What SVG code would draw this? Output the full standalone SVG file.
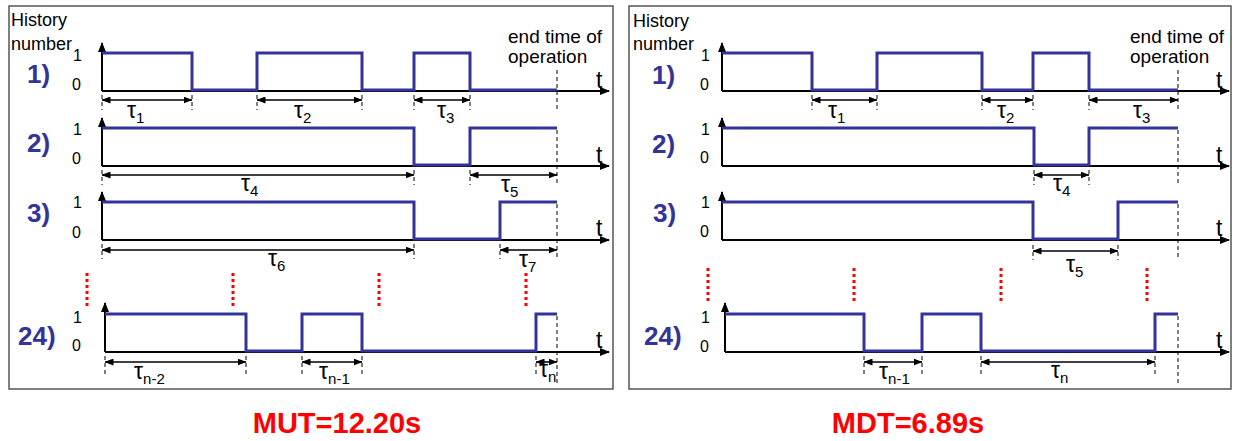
<svg xmlns="http://www.w3.org/2000/svg" width="1234" height="441" viewBox="0 0 1234 441">
<defs>
<marker id="ax" viewBox="0 0 10 8" refX="9" refY="4" markerWidth="10" markerHeight="8" markerUnits="userSpaceOnUse" orient="auto"><path d="M0,0 L10,4 L0,8 z" fill="#000"/></marker>
<marker id="ta" viewBox="0 0 9 7" refX="8.5" refY="3.5" markerWidth="9" markerHeight="7" markerUnits="userSpaceOnUse" orient="auto-start-reverse"><path d="M0,0 L9,3.5 L0,7 z" fill="#000"/></marker>
<style>
.frame{fill:#fff;stroke:#555;stroke-width:1.5}
.axis{fill:none;stroke:#000;stroke-width:2;marker-end:url(#ax)}
.sig{fill:none;stroke:#333399;stroke-width:3;stroke-linejoin:miter}
.tau{fill:none;stroke:#000;stroke-width:1.6;marker-start:url(#ta);marker-end:url(#ta)}
.dash{fill:none;stroke:#000;stroke-width:1;stroke-dasharray:4 3}
.dots{fill:none;stroke:#ff0000;stroke-width:3;stroke-dasharray:3 3}
.lbl{font-family:"Liberation Sans",Arial,sans-serif;font-size:19px;fill:#000}
.hist{font-family:"Liberation Sans",Arial,sans-serif;font-size:18px;fill:#000}
.tick{font-family:"Liberation Sans",Arial,sans-serif;font-size:16px;fill:#000}
.num{font-family:"Liberation Sans",Arial,sans-serif;font-size:26px;font-weight:bold;fill:#333399}
.tl{font-family:"Liberation Sans",Arial,sans-serif;font-size:23px;fill:#000}
.t{font-family:"Liberation Sans",Arial,sans-serif;font-size:23px;fill:#000}
.sub{font-size:15px}
.res{font-family:"Liberation Sans",Arial,sans-serif;font-size:29px;font-weight:bold;fill:#ff0000;text-anchor:middle}
</style>
</defs>
<rect width="1234" height="441" fill="#fff"/>

<g id="panel-mut">
<rect class="frame" x="9" y="6" width="604" height="383"/>
<text class="hist" x="11" y="26">History</text>
<text class="hist" x="11" y="50">number</text>
<text class="lbl" x="508" y="43">end time of</text>
<text class="lbl" x="508" y="63">operation</text>

<g id="l-row1">
<text class="num" x="27" y="83">1)</text>
<text class="tick" x="73" y="61">1</text>
<text class="tick" x="72" y="90">0</text>
<path class="axis" d="M102,91 V43"/>
<path class="axis" d="M102,91 H609"/>
<text class="t" x="596" y="88">t</text>
<path class="sig" d="M102,53 H192 V90 H257 V53 H362 V90 H414 V53 H470 V90 H557"/>
</g>
<g id="l-row2">
<text class="num" x="27" y="152">2)</text>
<text class="tick" x="73" y="135">1</text>
<text class="tick" x="72" y="164">0</text>
<path class="axis" d="M102,166 V118"/>
<path class="axis" d="M102,166 H609"/>
<text class="t" x="596" y="163">t</text>
<path class="sig" d="M102,128 H414 V165 H470 V128 H557"/>
</g>
<g id="l-row3">
<text class="num" x="27" y="222">3)</text>
<text class="tick" x="73" y="208">1</text>
<text class="tick" x="72" y="238">0</text>
<path class="axis" d="M102,240 V192"/>
<path class="axis" d="M102,240 H609"/>
<text class="t" x="596" y="236">t</text>
<path class="sig" d="M102,202 H414 V239 H500 V202 H557"/>
</g>
<g id="l-dots">
<path class="dots" d="M87,273 V306 M233,273 V306 M379,273 V306 M526,273 V306"/>
</g>
<g id="l-row24">
<text class="num" x="18" y="345">24)</text>
<text class="tick" x="73" y="323">1</text>
<text class="tick" x="72" y="351">0</text>
<path class="axis" d="M105,352 V303"/>
<path class="axis" d="M105,352 H609"/>
<text class="t" x="596" y="348">t</text>
<path class="sig" d="M105,314 H246 V351 H302 V314 H362 V351 H536 V314 H557"/>
</g>
</g>

<g id="panel-mdt">
<rect class="frame" x="629" y="6" width="602" height="383"/>
<text class="hist" x="633" y="27">History</text>
<text class="hist" x="633" y="50">number</text>
<text class="lbl" x="1130" y="43">end time of</text>
<text class="lbl" x="1130" y="63">operation</text>

<g id="r-row1">
<text class="num" x="652" y="84">1)</text>
<text class="tick" x="701" y="61">1</text>
<text class="tick" x="700" y="90">0</text>
<path class="axis" d="M722,91 V43"/>
<path class="axis" d="M722,91 H1229"/>
<text class="t" x="1216" y="88">t</text>
<path class="sig" d="M722,53 H812 V90 H877 V53 H982 V90 H1033 V53 H1089 V90 H1178"/>
</g>
<g id="r-row2">
<text class="num" x="652" y="153">2)</text>
<text class="tick" x="701" y="135">1</text>
<text class="tick" x="700" y="163">0</text>
<path class="axis" d="M722,166 V118"/>
<path class="axis" d="M722,166 H1229"/>
<text class="t" x="1216" y="163">t</text>
<path class="sig" d="M722,128 H1034 V165 H1089 V128 H1178"/>
</g>
<g id="r-row3">
<text class="num" x="653" y="222">3)</text>
<text class="tick" x="701" y="208">1</text>
<text class="tick" x="700" y="237">0</text>
<path class="axis" d="M722,240 V192"/>
<path class="axis" d="M722,240 H1229"/>
<text class="t" x="1216" y="236">t</text>
<path class="sig" d="M722,202 H1033 V239 H1118 V202 H1178"/>
</g>
<g id="r-dots">
<path class="dots" d="M708,268 V302 M854,268 V302 M1001,268 V302 M1147,268 V302"/>
</g>
<g id="r-row24">
<text class="num" x="644" y="345">24)</text>
<text class="tick" x="701" y="323">1</text>
<text class="tick" x="700" y="352">0</text>
<path class="axis" d="M725,352 V303"/>
<path class="axis" d="M725,352 H1229"/>
<text class="t" x="1216" y="348">t</text>
<path class="sig" d="M725,314 H864 V351 H922 V314 H981 V351 H1155 V314 H1178"/>
</g>
</g>

<g id="connectors">
<path class="dash" d="M557,70 V110 M557,130 V185 M557,204 V259 M557,316 V383"/>
<path class="dash" d="M1178,70 V110 M1178,130 V185 M1178,204 V259 M1178,316 V383"/>
<path class="dash" d="M102,95 V110 M192,95 V110 M257,95 V110 M362,95 V110 M414,95 V110 M470,95 V110"/>
<path class="dash" d="M102,170 V185 M414,170 V185 M470,170 V185"/>
<path class="dash" d="M102,244 V259 M414,244 V259 M500,244 V259"/>
<path class="dash" d="M105,356 V375 M246,356 V375 M302,356 V375 M362,356 V375 M536,356 V375"/>
<path class="dash" d="M812,95 V110 M877,95 V110 M982,95 V110 M1033,95 V110 M1089,95 V110"/>
<path class="dash" d="M1034,170 V185 M1089,170 V185"/>
<path class="dash" d="M1033,245 V260 M1118,245 V260"/>
<path class="dash" d="M864,356 V375 M922,356 V375 M981,356 V375 M1155,356 V375"/>
<path class="tau" d="M102,100 H192"/>
<path class="tau" d="M257,100 H362"/>
<path class="tau" d="M414,100 H470"/>
<path class="tau" d="M102,175 H414"/>
<path class="tau" d="M470,175 H557"/>
<path class="tau" d="M102,250 H414"/>
<path class="tau" d="M500,250 H557"/>
<path class="tau" d="M105,362 H246"/>
<path class="tau" d="M302,362 H362"/>
<path class="tau" d="M536,362 H557"/>
<path class="tau" d="M812,100 H877"/>
<path class="tau" d="M982,100 H1033"/>
<path class="tau" d="M1089,100 H1178"/>
<path class="tau" d="M1034,175 H1089"/>
<path class="tau" d="M1033,251 H1118"/>
<path class="tau" d="M864,362 H922"/>
<path class="tau" d="M981,362 H1155"/>
</g>

<g id="tau-labels">
<text class="tl" x="127" y="118">τ<tspan class="sub" dy="5">1</tspan></text>
<text class="tl" x="294" y="118">τ<tspan class="sub" dy="5">2</tspan></text>
<text class="tl" x="437" y="118">τ<tspan class="sub" dy="5">3</tspan></text>
<text class="tl" x="241" y="191">τ<tspan class="sub" dy="5">4</tspan></text>
<text class="tl" x="501" y="192">τ<tspan class="sub" dy="5">5</tspan></text>
<text class="tl" x="268" y="266">τ<tspan class="sub" dy="5">6</tspan></text>
<text class="tl" x="519" y="267">τ<tspan class="sub" dy="5">7</tspan></text>
<text class="tl" x="134" y="379">τ<tspan class="sub" dy="5">n-2</tspan></text>
<text class="tl" x="319" y="379">τ<tspan class="sub" dy="5">n-1</tspan></text>
<text class="tl" x="539" y="377">τ<tspan class="sub" dy="5">n</tspan></text>

<text class="tl" x="828" y="118">τ<tspan class="sub" dy="5">1</tspan></text>
<text class="tl" x="997" y="118">τ<tspan class="sub" dy="5">2</tspan></text>
<text class="tl" x="1133" y="118">τ<tspan class="sub" dy="5">3</tspan></text>
<text class="tl" x="1053" y="191">τ<tspan class="sub" dy="5">4</tspan></text>
<text class="tl" x="1066" y="272">τ<tspan class="sub" dy="5">5</tspan></text>
<text class="tl" x="879" y="379">τ<tspan class="sub" dy="5">n-1</tspan></text>
<text class="tl" x="1051" y="378">τ<tspan class="sub" dy="5">n</tspan></text>
</g>

<g id="results">
<text class="res" x="337" y="433">MUT=12.20s</text>
<text class="res" x="908" y="433">MDT=6.89s</text>
</g>
</svg>
